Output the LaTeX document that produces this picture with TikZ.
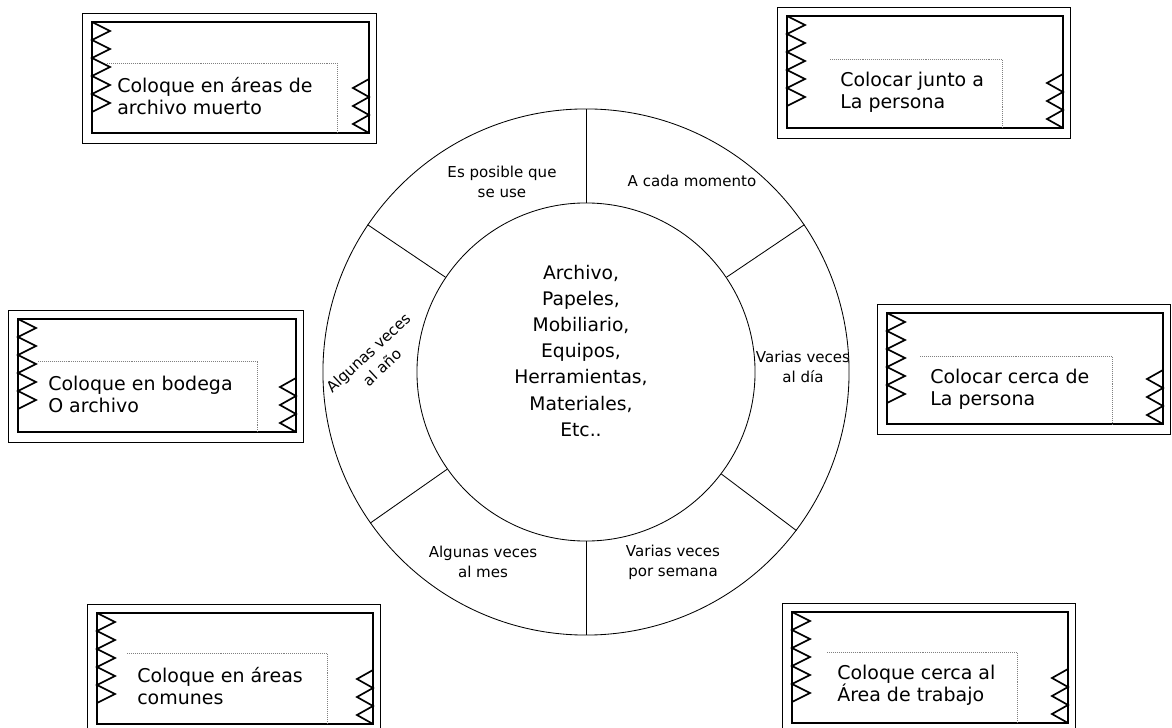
\documentclass[tikz,border=0pt]{standalone}
\usepackage{fontspec}
\setmainfont{DejaVu Sans}

\tikzset{
  frame/.style={line width=0.6pt},
  card/.style={line width=1.3pt},
  teeth/.style={line width=1.2pt, line join=miter},
  guide/.style={densely dotted, gray, line width=0.4pt},
  note/.style={align=left, anchor=west, inner sep=0pt, font=\fontsize{13.5}{15.6}\selectfont},
  sector/.style={align=center, inner sep=0pt, font=\fontsize{10.7}{14.2}\selectfont},
}

\begin{document}
\begin{tikzpicture}[x=0.025cm, y=-0.025cm]
    \useasboundingbox (0,0) rectangle (1172,728);

    % the six cards
    \foreach \nm/\bx/\by/\ex/\ey/\gl/\gt/\gr/\txt in {
        tl/92/22/369/133/107/63/337/{Coloque en áreas de\\archivo muerto},
        tr/787/16/1063/128/830/59/1002/{Colocar junto a\\La persona},
        ml/18/319/296/432/38/361/257/{Coloque en bodega\\O archivo},
        mr/887/313/1163/424/920/356/1112/{Colocar cerca de\\La persona},
        bl/97/613/373/724/127/653/327/{Coloque en áreas\\comunes},
        br/792/612/1068/723/827/652/1017/{Coloque cerca al\\Área de trabajo}} {
        \draw[frame] (\bx-10,\by-9) rectangle (\ex+7,\ey+10);
        \draw[card] (\bx,\by) rectangle (\ex,\ey);
        \draw[teeth] (\bx,\by) \foreach \k in {1,...,5} { -- ++(18,9) -- ++(-18,9) };
        \draw[teeth] (\ex,\ey) \foreach \k in {1,2,3} { -- ++(-16,-9) -- ++(16,-9) };
        \draw[guide] (\gl,\gt) -- (\gr,\gt) -- (\gr,\ey);
        \node[note] (note-\nm) at (\gl+10,\gt+33) {\txt};
    }

    % wheel
    \node[draw, circle, frame, minimum size=13.15cm] (ring) at (586,372) {};
    \node[draw, circle, frame, minimum size=8.45cm] (core) at (586,372) {};
    \foreach \a in {90,34,146,215,323,270}
        \draw[frame] (core.\a) -- (ring.\a);

    \node[align=center, font=\fontsize{13.3}{18.5}\selectfont] (items) at (581,351)
        {Archivo,\\Papeles,\\Mobiliario,\\Equipos,\\Herramientas,\\Materiales,\\Etc..};

    \node[sector] (s-posible) at (502,182) {Es posible que\\se use};
    \node[sector] (s-momento) at (692,181) {A cada momento};
    \node[sector] (s-dia) at (803,367) {Varias veces\\al día};
    \node[sector, rotate=43] (s-anio) at (375,360) {Algunas veces\\al año};
    \node[sector] (s-mes) at (483,562) {Algunas veces\\al mes};
    \node[sector] (s-semana) at (673,562) {Varias veces\\por semana};
\end{tikzpicture}
\end{document}
